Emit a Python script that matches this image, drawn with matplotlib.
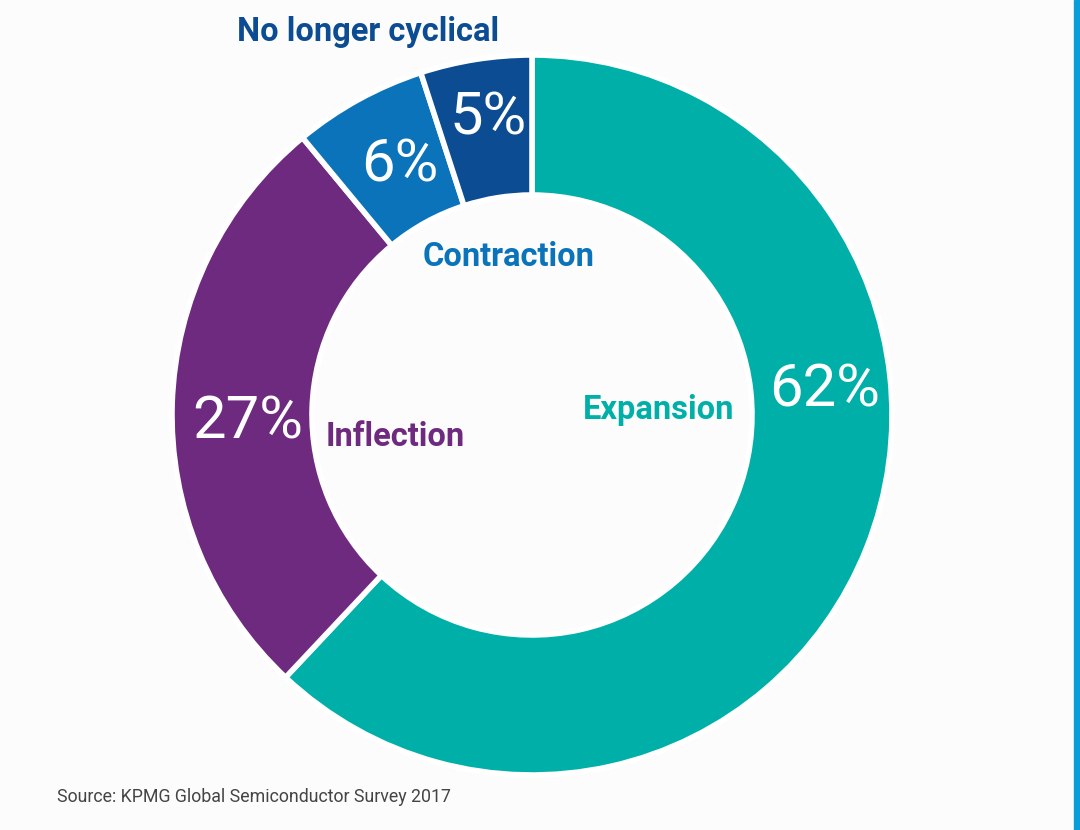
import matplotlib.pyplot as plt

labels = ['Expansion', 'Inflection', 'Contraction', 'No longer cyclical']
values = [62, 27, 6, 5]
colors = ['#00b0a8', '#6e2a7e', '#0a73ba', '#0c4c92']

plt.rcParams['font.family'] = ['Roboto', 'DejaVu Sans']

fig = plt.figure(figsize=(10.8, 8.3), dpi=100, facecolor='#fcfcfc')
ax = fig.add_axes([0, 0, 1, 1])

cx, cy, R = 532, 830 - 415, 360
ax.pie(values, colors=colors, startangle=90, counterclock=False,
       center=(cx, cy), radius=R, frame=True,
       wedgeprops=dict(width=140, edgecolor='white', linewidth=4))
ax.set_xlim(0, 1080)
ax.set_ylim(0, 830)
ax.set_aspect('equal')
ax.axis('off')

# percentages inside ring
pct_pos = [(825, 390), (248, 422), (400, 165), (488, 118)]
for v, (x, y) in zip(values, pct_pos):
    ax.text(x, 830 - y, f'{v}%', color='white', fontsize=43, fontweight='normal',
            ha='center', va='center')

# category labels
lab_pos = [(659, 410), (395, 437), (509, 257), (368, 32)]
for lab, c, (x, y) in zip(labels, colors, lab_pos):
    ax.text(x, 830 - y, lab, color=c, fontsize=23.5, fontweight='bold',
            ha='center', va='center')

ax.text(57, 830 - 797, 'Source: KPMG Global Semiconductor Survey 2017',
        color='#444444', fontsize=12.8, ha='left', va='center')

# blue bar on right edge
ax.axvspan(1074, 1080, color='#0a9ed8')

fig.savefig('out.png', dpi=100, facecolor=fig.get_facecolor())
